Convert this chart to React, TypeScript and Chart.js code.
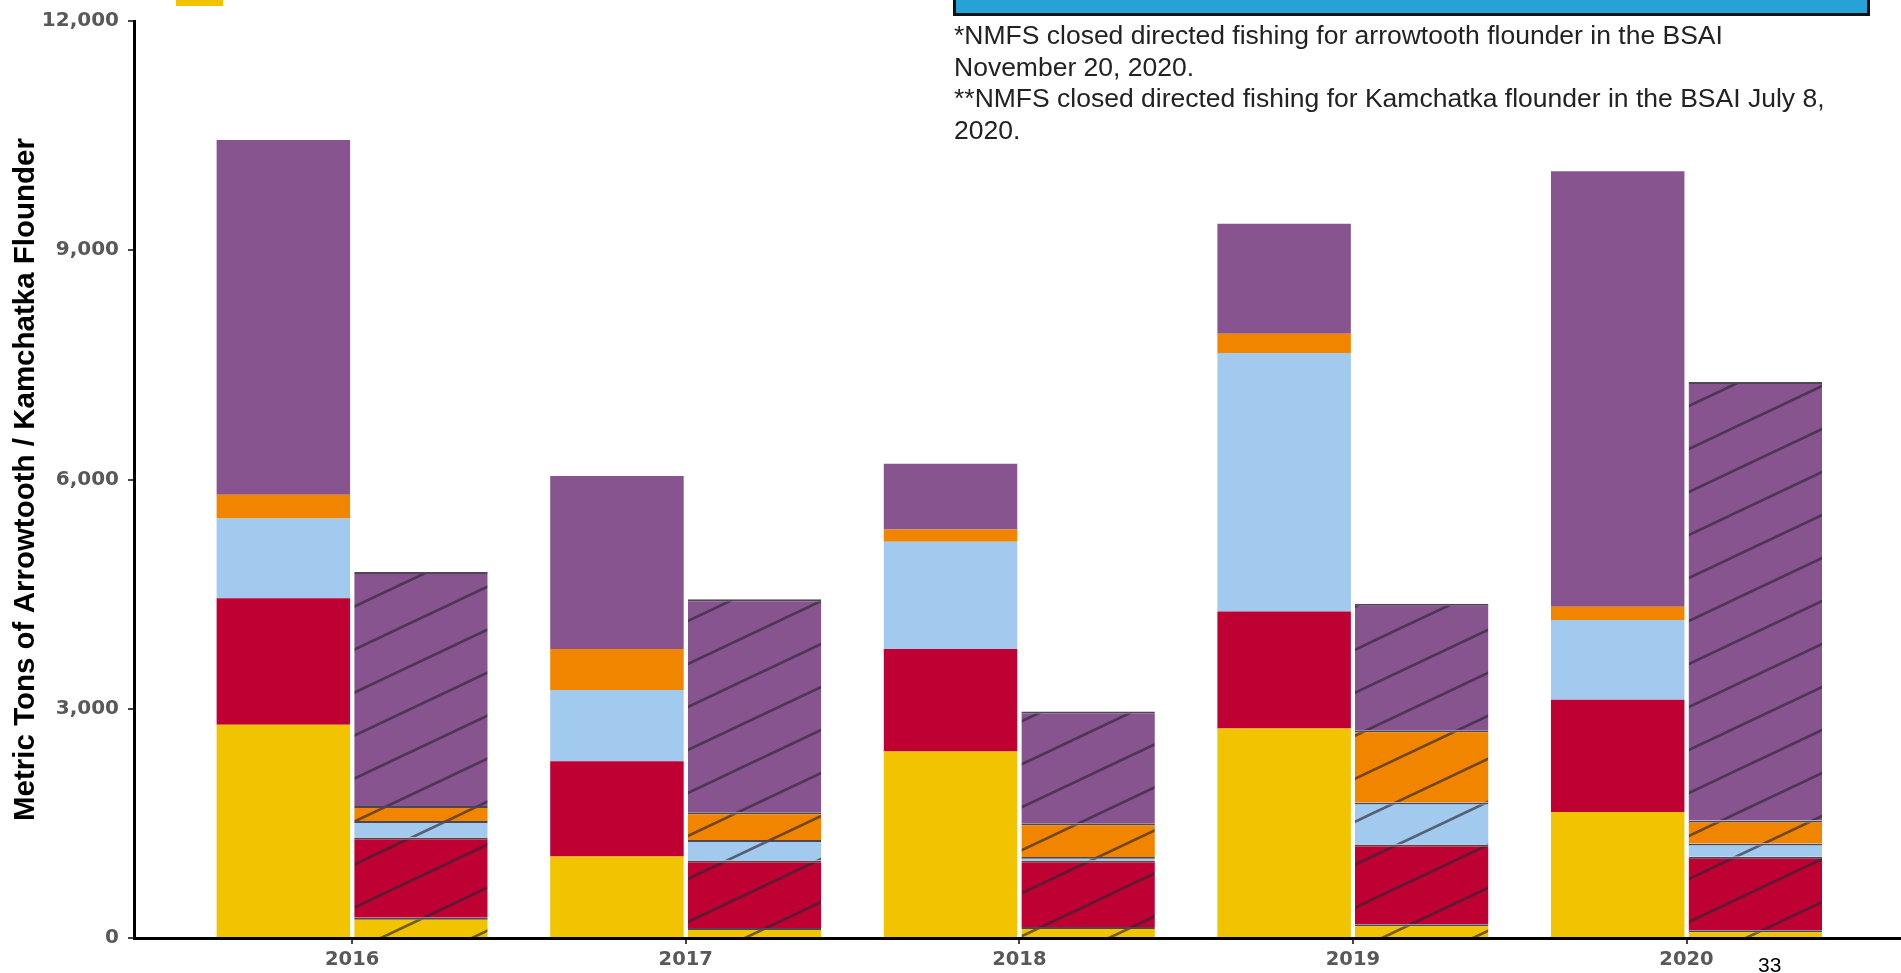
import React, { useEffect, useRef } from 'react';
import { Chart, registerables } from 'chart.js';

Chart.register(...registerables);

// ---- Data ----
const years = [2016, 2017, 2018, 2019, 2020];
const yTickValues = [0, 3000, 6000, 9000, 12000];
const yAxisTitle = 'Metric Tons of Arrowtooth / Kamchatka Flounder';

const seriesNames = ['Sector 1', 'Sector 2', 'Sector 3', 'Sector 4', 'Sector 5'];
const seriesColors = ['#F2C300', '#BE0032', '#A2CAEE', '#F28500', '#87548F'];

// Solid (left) bars, stacked segments per year
const yellowTotal = [2790, 1065, 2440, 2740, 1650];
const redTotal = [1656, 1247, 1342, 1531, 1469];
const blueTotal = [1043, 932, 1405, 3383, 1042];
const orangeTotal = [313, 537, 158, 253, 173];
const purpleTotal = [4640, 2266, 862, 1441, 5701];

// Hatched (right) bars, stacked segments per year
const yellowHatched = [265, 130, 145, 180, 100];
const redHatched = [1050, 884, 868, 1042, 963];
const blueHatched = [217, 269, 48, 552, 174];
const orangeHatched = [195, 363, 442, 945, 300];
const purpleHatched = [3063, 2788, 1462, 1655, 5740];

const totalSeries = [yellowTotal, redTotal, blueTotal, orangeTotal, purpleTotal];
const hatchedSeries = [yellowHatched, redHatched, blueHatched, orangeHatched, purpleHatched];

const xAxisMin = 2015.346;
const xAxisMax = 2020.643;

const noteLines = [
  '*NMFS closed directed fishing for arrowtooth flounder in the BSAI',
  'November 20, 2020.',
  '**NMFS closed directed fishing for Kamchatka flounder in the BSAI July 8,',
  '2020.',
];
const pageNumber = '33';

function makeHatch(color: string): CanvasPattern | string {
  const w = 91;
  const h = 43;
  const c = document.createElement('canvas');
  c.width = w;
  c.height = h;
  const ctx = c.getContext('2d');
  if (!ctx) return color;
  ctx.fillStyle = color;
  ctx.fillRect(0, 0, w, h);
  ctx.strokeStyle = 'rgba(45,38,50,0.65)';
  ctx.lineWidth = 2.6;
  for (const dy of [-h, 0, h]) {
    ctx.beginPath();
    ctx.moveTo(-2, h + dy + 2 * (h / w));
    ctx.lineTo(w + 2, dy - 2 * (h / w));
    ctx.stroke();
  }
  return ctx.createPattern(c, 'repeat') || color;
}

export default function App() {
  const canvasRef = useRef<HTMLCanvasElement | null>(null);

  useEffect(() => {
    const canvas = canvasRef.current;
    if (!canvas) return;
    const datasets: any[] = [];
    seriesNames.forEach((name, i) => {
      datasets.push({
        label: name + ' (total)',
        data: years.map((yr, j) => ({ x: yr, y: totalSeries[i][j] })),
        backgroundColor: seriesColors[i],
        borderWidth: 0,
        stack: 'total',
        categoryPercentage: 0.825,
        barPercentage: 0.97,
      });
      datasets.push({
        label: name + ' (hatched)',
        data: years.map((yr, j) => ({ x: yr, y: hatchedSeries[i][j] })),
        backgroundColor: makeHatch(seriesColors[i]),
        borderColor: '#4f4653',
        borderWidth: { top: 2, left: 0, right: 0, bottom: 0 },
        borderSkipped: false,
        stack: 'sub',
        categoryPercentage: 0.825,
        barPercentage: 0.97,
      });
    });

    const tickFont = { family: "'DejaVu Sans', Verdana, sans-serif", weight: 'bold' as const, size: 20 };

    const chart = new Chart(canvas, {
      type: 'bar',
      data: { datasets },
      options: {
        animation: false,
        responsive: false,
        devicePixelRatio: 1,
        layout: { padding: { top: 17, left: 0, right: 0, bottom: 0 } },
        plugins: {
          legend: { display: false },
          tooltip: { enabled: false },
        },
        scales: {
          x: {
            type: 'linear',
            stacked: true,
            offset: false,
            min: xAxisMin,
            max: xAxisMax,
            afterBuildTicks: (axis: any) => {
              axis.ticks = years.map((v) => ({ value: v }));
            },
            afterFit: (scale: any) => {
              scale.height = 35;
            },
            ticks: {
              font: { ...tickFont, size: 19.5 },
              color: '#595959',
              padding: 4,
              callback: (v: any) => String(v),
            },
            grid: {
              display: true,
              offset: false,
              drawOnChartArea: false,
              drawTicks: true,
              tickLength: 6,
              color: '#444444',
              lineWidth: 2,
            },
            border: { display: true, color: '#000000', width: 3 },
          },
          y: {
            stacked: true,
            min: 0,
            max: 12000,
            afterBuildTicks: (axis: any) => {
              axis.ticks = yTickValues.map((v) => ({ value: v }));
            },
            afterFit: (scale: any) => {
              scale.width = 134;
            },
            ticks: {
              font: tickFont,
              color: '#595959',
              padding: 9,
              callback: (v: any) => Number(v).toLocaleString('en-US'),
            },
            grid: {
              display: true,
              drawOnChartArea: false,
              drawTicks: true,
              tickLength: 6,
              color: '#444444',
              lineWidth: 2,
            },
            border: { display: true, color: '#000000', width: 3 },
            title: {
              display: true,
              text: yAxisTitle,
              color: '#000000',
              font: { family: "'Liberation Sans', Arial, sans-serif", weight: 'bold', size: 29.5 },
              padding: { top: 8, bottom: 0 },
            },
          },
        },
      },
    } as any);
    return () => chart.destroy();
  }, []);

  return (
    <div
      style={{
        position: 'fixed',
        left: 0,
        top: 0,
        width: 1901,
        height: 973,
        overflow: 'hidden',
        background: '#ffffff',
      }}
    >
      <canvas ref={canvasRef} width={1901} height={973} style={{ display: 'block', position: 'absolute', left: 0, top: 0 }} />
      <div style={{ position: 'absolute', left: 176, top: 0, width: 47, height: 6, background: seriesColors[0] }} />
      <div
        style={{
          position: 'absolute',
          left: 953,
          top: -30,
          width: 917,
          height: 46,
          boxSizing: 'border-box',
          background: '#25A2D6',
          border: '3px solid #111111',
        }}
      />
      <div
        style={{
          position: 'absolute',
          left: 954,
          top: 20,
          fontFamily: "'Liberation Sans', Arial, sans-serif",
          fontSize: 26.5,
          lineHeight: '31.5px',
          color: '#222222',
          whiteSpace: 'nowrap',
        }}
      >
        {noteLines.map((l, i) => (
          <div key={i}>{l}</div>
        ))}
      </div>
      <div
        style={{
          position: 'absolute',
          left: 1758,
          top: 954,
          fontFamily: "'Liberation Sans', Arial, sans-serif",
          fontSize: 21,
          lineHeight: '21px',
          color: '#000000',
        }}
      >
        {pageNumber}
      </div>
    </div>
  );
}
